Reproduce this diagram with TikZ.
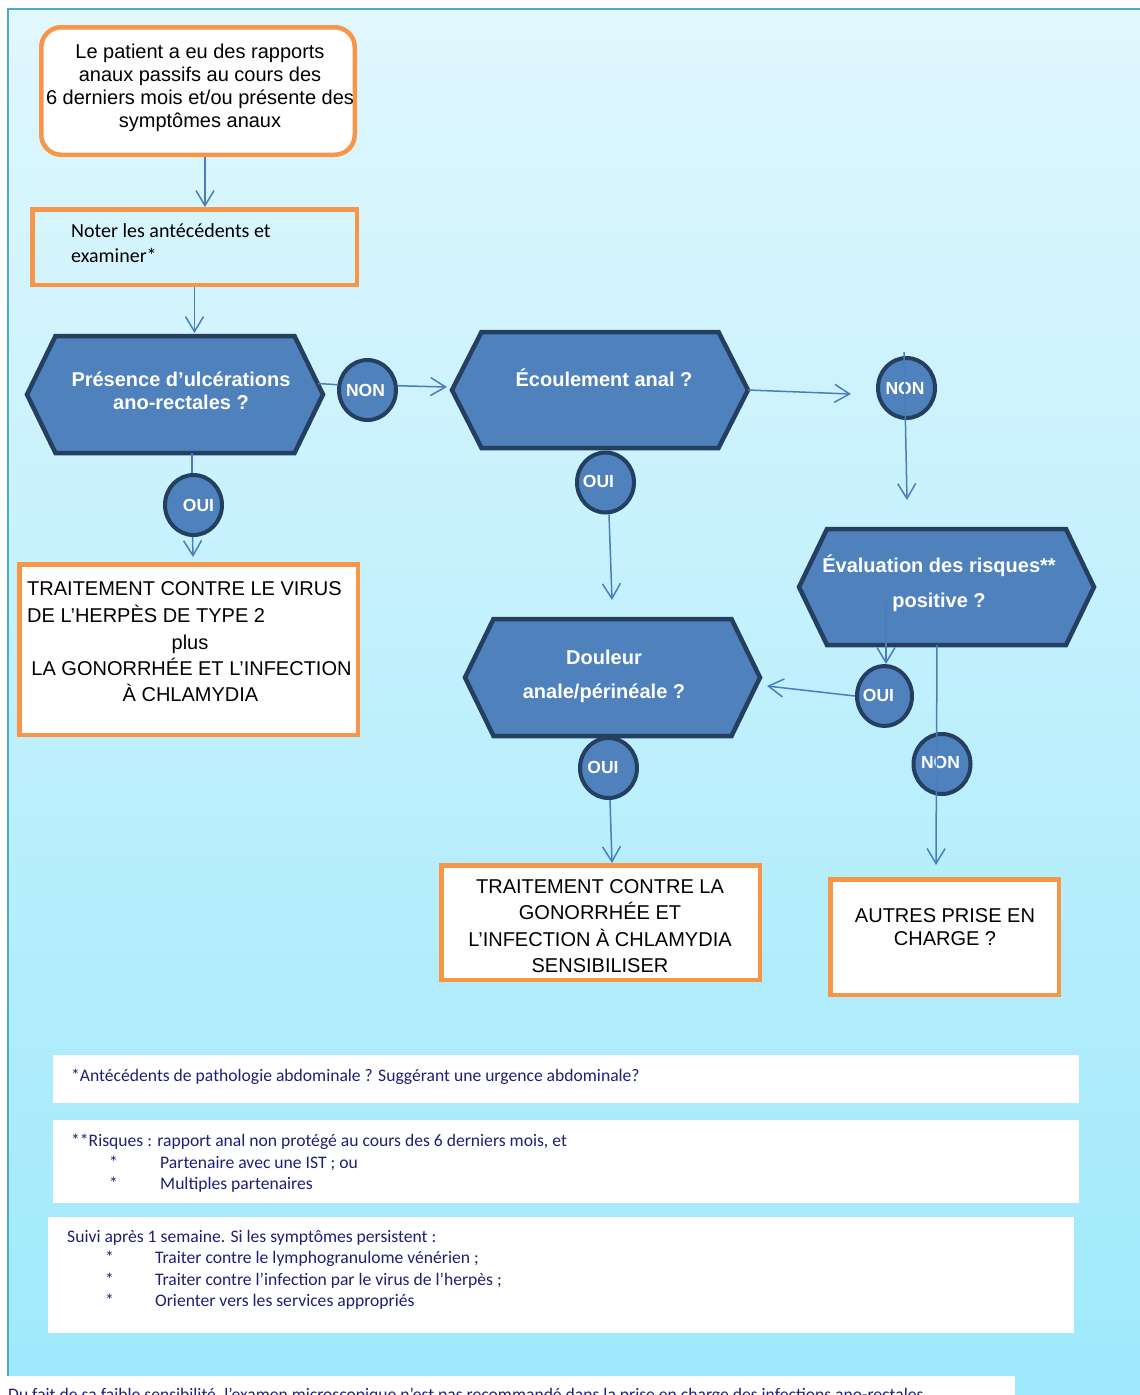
\documentclass[tikz,border=0pt]{standalone}
\usepackage{fontspec}
\setmainfont{Liberation Sans}
\newfontfamily\calib{Carlito}
\usetikzlibrary{arrows.meta,shapes.geometric}
\definecolor{bgtop}{RGB}{224,247,253}
\definecolor{bgbot}{RGB}{158,233,252}
\definecolor{bordteal}{RGB}{75,172,198}
\definecolor{orng}{RGB}{247,150,70}
\definecolor{hexfill}{RGB}{79,129,189}
\definecolor{hexline}{RGB}{36,63,96}
\definecolor{conncol}{RGB}{74,126,187}
\definecolor{footcol}{RGB}{31,31,120}
\newcommand{\hexnode}[6]{%
  \node[hexframe, minimum width=#4pt, minimum height=#5pt] (#1) at (#2,#3) {};
  \filldraw[hexshape] (#1.west) -- ([xshift=#6pt]#1.north west) -- ([xshift=-#6pt]#1.north east)
    -- (#1.east) -- ([xshift=-#6pt]#1.south east) -- ([xshift=#6pt]#1.south west) -- cycle;}
\begin{document}
\begin{tikzpicture}[x=1pt,y=-1pt,
  box/.style={draw=orng, line width=4.5pt, inner sep=0pt},
  hexframe/.style={draw=none, inner sep=0pt, outer sep=0pt},
  hexshape/.style={fill=hexfill, draw=hexline, line width=4.5pt, line join=miter},
  circ/.style={ellipse, draw=hexline, fill=hexfill, line width=4pt, minimum width=57pt, minimum height=60pt, inner sep=0pt},
  lab/.style={inner sep=0pt, anchor=base, font=\fontsize{20}{23}\selectfont},
  labw/.style={lab, anchor=base west},
  hexlab/.style={lab, text=white, font=\bfseries\fontsize{20}{23}\selectfont},
  clab/.style={inner sep=0pt, anchor=base, text=white, font=\bfseries\fontsize{17.5}{20}\selectfont},
  fn/.style={inner sep=0pt, anchor=base west, text=footcol, font=\calib\fontsize{17.6}{20}\selectfont},
  fnbox/.style={fill=white, draw=none, inner sep=0pt, outer sep=0pt},
  conn/.style={draw=conncol, line width=1.5pt},
  arr/.style={conn, -{Straight Barb[length=15pt,width=18pt,line width=1.5pt]}}
]
\useasboundingbox (0,0) rectangle (1140,1395);
\fill[white] (0,0) rectangle (1140,1395);
\shade[top color=bgtop, bottom color=bgbot] (8,9) rectangle (1140,1395);
\fill[white] (0,1376) rectangle (1015,1395);
\draw[bordteal, line width=2pt] (8,1376) -- (8,9) -- (1140,9);

% boxes
\node[box, rounded corners=20pt, fill=white, minimum width=313.5pt, minimum height=127.5pt] (b1) at (198,91) {};
\node[lab] (t1a) at (200,58) {Le patient a eu des rapports};
\node[lab] (t1b) at (200,81) {anaux passifs au cours des};
\node[lab] (t1c) at (200,104) {6 derniers mois et/ou présente des};
\node[lab] (t1d) at (200,127) {symptômes anaux};

\node[box, minimum width=324.5pt, minimum height=75.5pt] (b2) at (194.5,247) {};
\node[labw, font=\calib\fontsize{20}{24}\selectfont] (t2a) at (71,237) {Noter les antécédents et};
\node[labw, font=\calib\fontsize{20}{24}\selectfont] (t2b) at (71,262) {examiner*};

\node[box, fill=white, minimum width=338.5pt, minimum height=170.5pt] (b3) at (188.5,649.5) {};
\node[labw] (t3a) at (27,595) {TRAITEMENT CONTRE LE VIRUS};
\node[labw] (t3b) at (27,622) {DE L’HERPÈS DE TYPE 2};
\node[lab] (t3c) at (190,649) {plus};
\node[lab] (t3d) at (191.5,675) {LA GONORRHÉE ET L’INFECTION};
\node[lab] (t3e) at (190.5,701) {À CHLAMYDIA};

\node[box, fill=white, minimum width=318.5pt, minimum height=114.5pt] (b5) at (600.5,922.5) {};
\node[lab] (t5a) at (600,893) {TRAITEMENT CONTRE LA};
\node[lab] (t5b) at (600,919) {GONORRHÉE ET};
\node[lab] (t5c) at (600,946) {L’INFECTION À CHLAMYDIA};
\node[lab] (t5d) at (600,972) {SENSIBILISER};

\node[box, fill=white, minimum width=228.5pt, minimum height=115.5pt] (b6) at (944.5,937) {};
\node[lab] (t6a) at (945,922) {AUTRES PRISE EN};
\node[lab] (t6b) at (945,945) {CHARGE ?};

% hexagons
\hexnode{h1}{175}{394.5}{296}{117}{28.5}
\node[hexlab] (th1a) at (181,386) {Présence d’ulcérations};
\node[hexlab] (th1b) at (181,409) {ano-rectales ?};
\hexnode{h2}{600}{390}{296}{116}{29.5}
\node[hexlab] (th2) at (604,386) {Écoulement anal ?};
\hexnode{h3}{946.5}{587}{295}{116}{28}
\node[hexlab] (th3a) at (939,572) {Évaluation des risques**};
\node[hexlab] (th3b) at (939,607) {positive ?};
\hexnode{h4}{612.5}{677.5}{295}{117}{28.5}
\node[hexlab] (th4a) at (604,664) {Douleur};
\node[hexlab] (th4b) at (604,698) {anale/périnéale ?};

% circles
\node[circ] (n1) at (367.5,390) {};
\node[clab] (tn1) at (365.5,396) {NON};
\node[circ] (o1) at (193.5,505) {};
\node[clab] (to1) at (198.5,511) {OUI};
\node[circ] (n2) at (906.5,388) {};
\node[clab] (tn2) at (905,394) {NON};
\node[circ] (o2) at (605.5,482.5) {};
\node[clab] (to2) at (598.5,487) {OUI};
\node[circ, minimum width=55pt] (o3) at (884.5,696) {};
\node[clab] (to3) at (878.5,701) {OUI};
\node[circ] (n3) at (942,764) {};
\node[clab] (tn3) at (940.5,768) {NON};
\node[circ] (o4) at (608.5,768) {};
\node[clab] (to4) at (603,773) {OUI};

% free ends
\coordinate (e1) at (851,394);
\coordinate (e2) at (904,352);
\coordinate (e3) at (907,500);
\coordinate (e4) at (612,600);
\coordinate (e5) at (886,603);

% connectors
\draw[arr] ([xshift=7pt]b1.south) -- ([xshift=10.5pt]b2.north);
\draw[arr] (b2.south) -- ([xshift=19.5pt,yshift=3pt]h1.north);
\draw[conn] ([xshift=-5pt,yshift=11pt]h1.east) -- (n1.170);
\draw[arr] (n1.8) -- ([xshift=-5pt,yshift=3pt]h2.west);
\draw[conn] ([xshift=17pt]h1.south) -- ([xshift=-1.5pt]o1.north);
\draw[arr] ([xshift=-1pt]o1.south) -- ([xshift=4.5pt,yshift=5pt]b3.north);
\draw[arr] (h2.east) -- (e1);
\draw[arr] (e2) -- (e3);
\draw[arr] ([xshift=3.5pt]o2.south) -- (e4);
\draw[arr] (e5) -- ([xshift=1.5pt]o3.north);
\draw[arr] (o3.west) -- ([xshift=7pt,yshift=-8.5pt]h4.east);
\draw[arr] ([xshift=-9.5pt]h3.south) -- ([xshift=-8.5pt,yshift=12pt]b6.north);
\draw[arr] ([xshift=1.5pt]o4.south) -- ([xshift=11.5pt]b5.north);

% footnote boxes
\node[fnbox, minimum width=1026pt, minimum height=48pt] (fa) at (566,1079) {};
\node[fn] (fa1) at (71,1081) {*Antécédents de pathologie abdominale ? Suggérant une urgence abdominale?};
\node[fnbox, minimum width=1026pt, minimum height=83pt] (fb) at (566,1161.5) {};
\node[fn] (fb1) at (71,1146) {**Risques : rapport anal non protégé au cours des 6 derniers mois, et};
\node[fn] (fb2s) at (109,1168) {*};
\node[fn] (fb2) at (160,1168) {Partenaire avec une IST ; ou};
\node[fn] (fb3s) at (109,1189) {*};
\node[fn] (fb3) at (160,1189) {Multiples partenaires};
\node[fnbox, minimum width=1026pt, minimum height=116pt] (fc) at (561,1275) {};
\node[fn] (fc1) at (67,1242) {Suivi après 1 semaine. Si les symptômes persistent :};
\node[fn] (fc2s) at (105,1263) {*};
\node[fn] (fc2) at (155,1263) {Traiter contre le lymphogranulome vénérien ;};
\node[fn] (fc3s) at (105,1285) {*};
\node[fn] (fc3) at (155,1285) {Traiter contre l’infection par le virus de l’herpès ;};
\node[fn] (fc4s) at (105,1306) {*};
\node[fn] (fc4) at (155,1306) {Orienter vers les services appropriés};

\begin{scope}
\clip (0,1376) rectangle (1015,1395);
\node[fn] (fd) at (8,1400) {Du fait de sa faible sensibilité, l’examen microscopique n’est pas recommandé dans la prise en charge des infections ano-rectales};
\end{scope}
\end{tikzpicture}
\end{document}
